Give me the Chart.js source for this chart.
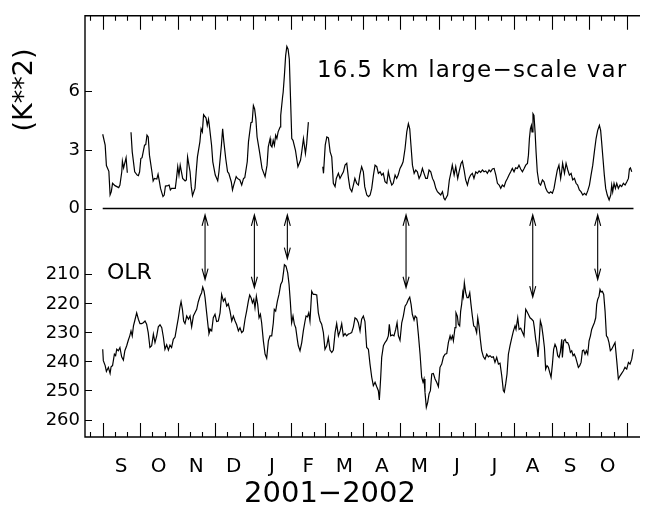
<!DOCTYPE html>
<html><head><meta charset="utf-8">
<script src="https://cdn.jsdelivr.net/npm/chart.js@4/dist/chart.umd.min.js"></script>
<style>html,body{margin:0;padding:0;background:#fff}#wrap{width:650px;height:505px;position:relative}</style>
</head><body><div id="wrap"><canvas id="c" width="650" height="505"></canvas></div>
<script>
// ---- data (days since 1 Sep 2001) ----
const monthLabels = ['S','O','N','D','J','F','M','A','M','J','J','A','S','O'];
const monthStarts = [0,30,61,91,122,153,181,212,242,273,303,334,365,395,426];
const varTicks = [0,3,6];
const olrTicks = [210,220,230,240,250,260];

const varDays = [0,2,3,5,6,7,8,10,13,14,15.5,16,17,19,20,21.5,
23,24,26,28,29,30,31,32,34,35,36,37,38,40,41,42,44,45,46,47,49,50,51,53,54,55,56,59,60,61,62,63,65,67,68,69,71,72,73,75,76,77,79,80,81,82,84,85,86,86.5,88.5,89.5,91.5,93.5,94.5,96.5,97.5,98.5,100,101.5,102.5,104.5,105.5,106.5,108.5,109.5,111.5,113,114.5,115.5,117.5,118.5,120.5,121.5,122.5,123.5,124.5,125.5,127.5,129.5,132,133.6,134.6,136.1,136.6,137.6,138.6,139.6,140.6,141.6,142.6,144.2,144.7,146.2,146.7,147.7,148.7,149.7,150.7,151.7,152.7,153.7,154.7,156.7,157.7,158.7,160.8,161.8,163.2,164.8,165.8,167.2,172,
178.9,179.5,180.9,182.2,183.5,184.9,186.2,187.5,188.9,189.9,191.6,192.9,194.3,195.7,197,198.4,199.8,201,202.5,203.8,205,206.5,207.9,209,210.5,211.9,213,214.7,216.1,217.4,218.7,220.1,221.4,222.8,224.1,225.5,226.8,228.1,229.5,231,232.2,233.7,235,236.2,237.7,239,240.2,241.7,243.1,244.2,245.8,247.2,248.5,249.6,250.6,251.8,253.2,254.5,255.8,257.2,258.5,259.9,261.2,262.6,263.9,265.3,266.7,268.1,269.4,270.8,272.1,273.4,274.8,276.2,277.4,278.3,280.4,281.8,283.2,284.2,285.7,287,288.6,289.7,291.3,292.4,293.8,295.1,296.5,297.8,299.1,300.5,301.8,303.3,304.6,306,307.3,308.7,310,311.4,312.7,314.1,315.4,316.8,318.2,319.6,320.9,322.3,323.6,324.9,326.3,327.6,329,330.3,331.7,333,334.4,335.7,337.1,338.4,339.8,341.2,342.6,343.9,345.3,346.1,346.9,347.7,348.5,349,349.8,350.6,351.5,352.3,353.3,354.7,356,357.5,358.8,360.2,361.5,362.9,364.2,365.6,366.9,368.3,369.6,370.9,372.3,373.1,373.9,375.4,376.7,378.1,379.4,380.8,382.1,383.5,384.8,386.1,387.5,388.8,390.3,391.6,393,394.3,395.7,397,398.4,399.7,401.1,402.4,403.8,404.8,405.6,406.7,407.8,408.9,410.2,411.7,413,413.8,414.6,415.7,416.8,417.9,419.2,420.6,421.9,423.3,424.7,426.1,427.4,428.2,429,430.1];
const varVals = [3.8,3.24,2.2,1.9,0.7,0.86,1.29,1.17,1.07,1.2,1.88,2.42,2.08,2.6,1.83,null,
3.9,2.9,1.88,1.71,1.68,1.88,2.56,2.6,3.24,3.27,3.75,3.66,2.73,1.88,1.41,1.54,1.51,1.75,1.41,1.03,0.61,0.69,1.15,1.17,1.2,0.95,1.03,1.03,1.54,2.14,1.71,2.22,1.54,1.41,1.46,2.64,1.88,1.12,0.66,1.03,1.88,2.64,3.41,4.08,3.92,4.8,4.63,4.25,4.56,4.34,3.24,2.39,1.71,1.42,1.88,3.24,4.08,3.41,2.56,1.88,1.8,1.37,0.95,1.2,1.63,1.54,1.46,1.2,1.54,1.58,2.39,3.41,4.39,4.42,5.27,5.1,4.59,3.66,2.9,2.05,1.63,2.22,3.15,3.58,3.24,3.15,3.49,3.24,3.75,3.58,3.92,4.17,4.76,5.69,5.95,6.8,7.81,8.29,8.15,7.64,5.61,3.58,3.49,2.98,2.56,2.14,2.47,2.9,3.58,2.81,3.32,4.42,null,
2.14,1.8,3.24,3.66,3.61,2.9,2.64,1.29,1.12,1.54,1.8,1.54,1.71,1.88,2.22,2.31,1.54,1.03,0.86,1.2,1.54,1.29,1.2,1.71,2.14,1.88,1.12,0.69,0.61,0.69,1.03,1.71,2.22,2.14,1.8,1.88,1.71,1.8,1.37,1.29,1.88,1.46,1.2,1.29,1.71,1.54,1.71,2.05,2.22,2.39,3.07,3.92,4.34,4.08,3.24,2.22,1.8,1.97,1.88,1.54,1.71,2.05,1.8,1.54,1.54,1.97,1.88,1.54,1.37,1.03,0.86,0.78,0.69,0.86,0.53,0.44,0.69,1.46,1.88,2.22,1.71,2.14,1.54,1.88,2.31,2.42,1.97,1.46,1.2,1.54,1.71,1.8,1.54,1.88,1.8,1.92,1.85,1.97,1.88,1.92,1.8,1.97,1.88,2.02,2.05,1.71,1.29,1.2,1.03,1.2,1.12,1.37,1.54,1.71,1.88,2.05,1.88,2.08,2.05,2.22,2.02,1.88,2.05,2.22,2.31,2.73,3.58,4.08,4.25,3.92,4.85,4.76,3.92,2.9,1.88,1.29,1.2,1.46,1.37,1.03,0.86,0.78,0.86,0.78,1.03,1.54,1.97,2.22,1.54,1.88,2.31,1.8,2.31,1.97,1.71,1.8,1.46,1.54,1.29,1.2,0.95,0.86,0.69,0.78,0.69,0.9,1.2,1.71,2.22,2.9,3.58,4.0,4.25,4.0,3.41,2.56,1.71,1.03,0.69,0.44,0.69,1.2,0.86,1.29,1.03,1.29,1.03,1.2,1.12,1.29,1.2,1.37,1.54,2.02,2.08,1.88];

const zeroLineDays = [0,431.5];
const zeroLineVals = [0,0];

const olrDays = [0,0.5,2,3,4.6,6,6.8,8,9.5,10.5,11.4,12.7,14,15.4,16.8,18,19.5,20.8,22,23,24,25,26,27.6,29,30.3,31.7,33,34.4,35.7,37,38.4,39.8,41.2,42.5,43.9,45.2,46.6,48,49.3,50.6,52,53.4,54.7,56,57.4,58.8,60.1,61.5,62.8,63.7,64.8,65.8,66.9,68.3,69.7,71,72.3,73.7,75,76.4,77.7,79.1,80.4,81.3,82.4,83.2,84.5,85.8,86.4,87.5,88.6,89.9,91.3,92.6,94,95.4,96.7,98.1,99.4,100.8,102.1,103.5,104.9,106.2,107.6,108.9,110.3,111.6,113,114.3,115.7,117,118.4,119.5,120.6,121.7,122.8,123.8,124.9,126,127.1,128.2,129.2,130.6,132,133.3,134.7,136,137.4,138.7,139.5,140.6,142,143.3,144.7,146,147.1,147.7,149,150.4,151.5,152.5,153.6,154.7,155.8,156.9,158.2,159,160.4,161.8,163.1,164.5,165.3,166.4,167.5,168.5,169.9,171.2,172.6,174,175.3,176.7,178,179.4,180.7,182.1,183.4,184.8,186.2,187.5,188.9,190.2,191.6,193,194.3,195.6,197,198.3,199.7,201,202.4,203.8,205.1,206.5,207.8,209.2,210.5,211.9,213.2,214.6,216,217.3,218.7,220,221.4,222.7,224.1,224.9,226,226.8,228.2,229.5,230.9,232.2,233,234.1,235.5,236.8,238.2,239.3,240.4,241.7,243.1,244.4,245.8,247.1,248.5,249.6,250.7,251.7,253.1,254,255.3,256.6,258,259.3,260.4,261.2,262,263.1,264.2,265.3,266.4,267.5,268.8,270.2,271.5,272.9,274.2,275.6,277,278.3,279.7,281,282.4,283.2,284.3,285.1,286.4,287.2,288.3,289.1,290.2,291,291.8,292.7,293.2,294,295.1,296.2,297.3,298.4,299.4,300.5,301.6,302.7,304,304.9,305.9,307,308.1,309.5,310.8,312.2,313.5,314.9,316.2,317.6,318.9,320.3,321.7,323,324.4,325.7,326.5,327.6,328.7,329.8,331.1,332.5,333.9,335.2,336,337.4,338.5,339.8,341.4,342.5,343.9,344.7,346,347.4,348.8,350.1,350.9,352,353.1,353.9,355,355.8,356.9,358,359.1,360.1,361.2,362.3,363.4,364.5,365.6,366.6,367.7,368.8,369.9,371,372,373.2,373.7,374.8,375.9,376.9,378,379.1,380.2,381.3,382.4,383.4,384.5,385.6,386.7,387.8,388.9,390,391,392.1,393.2,394.3,395.4,396.5,397.5,398.6,399.7,400.8,401.6,402.4,403.5,404.3,405.1,406.2,407.3,408.4,409.5,410.5,411.6,412.7,413.8,415.2,416.5,417.9,419.2,420.6,421.9,423.3,424.6,426,427.4,428.7,430.1,431.4];
const olrVals = [235.9,239.8,241.5,243.5,242.1,244.2,241.9,241.5,237.6,238.1,235.9,236.4,235.3,238.5,239.6,236.4,234.7,232.8,231.3,229.6,231.3,227.9,226.2,223.4,225.6,227.1,227.1,226.8,226.2,227.3,230.2,235.3,234.7,230.7,233.6,231.3,228.2,227.5,228.5,231.7,235.9,234.4,236.2,234.5,235.3,232.5,231.7,228.5,225.1,221.4,219.6,222.2,226.2,227.1,224.5,225.6,224.5,228.2,224.5,223.4,222.2,219.6,217.7,216.5,214.6,216,218.2,223.4,228.5,230.5,229.1,229.6,225.1,223.9,226.4,226.2,223.4,217.1,219.4,218.5,221.1,220.3,222.8,226.2,224.5,226.2,227.5,229.6,228.5,230.2,229.6,225.6,222.8,219.4,217.3,218.2,220,218.8,221.7,217.7,220.5,225.1,223.9,226.8,233,237.6,239,233,231.3,231.3,226.8,222.2,222.8,219.4,217.1,213.7,212.6,209.1,206.9,207.4,209.7,213.7,219.4,226.8,224.5,227.3,228.5,232.5,234.7,236.4,233.6,229.6,226.2,224.5,224.8,223.4,226.2,216,217.1,217.1,217.3,223.4,226.2,227.3,230.2,235.9,234.7,231.9,236.2,237,236.2,230.2,227.1,231.3,229.6,227.1,231.3,230.5,231.3,230.7,230.5,230.2,228.2,225.1,225.6,226.8,229.6,225.6,224.5,226.4,235.3,235.9,241,245.5,248.4,247.2,248.7,250.1,253.3,245.5,238.7,234.7,233.6,232.8,231.3,227.3,231.3,231,231.3,229.1,226.8,231.3,232.8,226.8,224.5,221.1,220.3,218.8,218,220.5,223.9,225.9,224.5,225.1,230.7,237.6,245.5,247.2,246.1,250.6,255.8,254.1,251.2,250.1,244.4,244.2,246.1,247.2,248.7,242.1,241,238.5,237.6,237.4,233.6,231.3,232.5,231.3,233,228.5,223.4,224.5,227.3,227.9,222.8,220.5,216.5,217.7,213.1,216.5,218.2,218.2,216.5,220.5,224.5,227.9,228.2,230.2,225.1,227.9,232.5,236.4,238.5,239.3,237.6,238.5,238.1,238.7,238.5,240.4,238.7,241,240.7,245,250.1,250.6,247.8,244.4,237.6,234.7,232.1,229.6,227.9,229.1,225.1,229.1,228.7,230.2,231.3,222.2,222.8,223.9,225.1,225.6,226.2,228.5,232.5,235.3,238.5,231.9,226.2,227.9,231.3,235.3,242.7,241.5,242.1,243.8,245.5,241,235.9,234.2,235.3,238.1,238.7,237,232.5,238.7,233,232.5,233.6,233.6,234.7,237,236.4,238.1,237.6,238.7,240.4,242.1,241.5,240.4,236.4,236.2,237.6,236.4,237.6,233,231.3,229.1,227.9,226.8,225.1,220.5,218.8,217.7,215.4,216.2,216,217.1,222.8,231.3,231.9,233.6,236.4,235.9,234.7,233.6,239.9,246.1,245,244.2,243.3,242.1,242.7,240.4,241,239.3,235.9];

const arrowDays = [83.2,123.3,150.1,246.6,349.6,402.4];
const arrowTopVar = -0.32;
const arrowBottomOlr = [212.0,214.8,204.8,214.8,218.0,212.0];

// ---- chart ----
const FONT = '"DejaVu Sans", "Liberation Sans", sans-serif';
const toPts = (xs, ys) => xs.map((d, i) => ({x: d, y: ys[i]}));

const deco = {
  id: 'deco',
  afterDraw(chart) {
    const {ctx, chartArea: a, scales} = chart;
    const x = scales.x, y = scales.y, y2 = scales.y2;
    ctx.save();
    ctx.strokeStyle = '#000'; ctx.fillStyle = '#000';
    // frame
    ctx.lineWidth = 1.4;
    ctx.beginPath();
    ctx.moveTo(a.right, a.top); ctx.lineTo(a.left, a.top); ctx.lineTo(a.left, a.bottom); ctx.lineTo(a.right, a.bottom);
    ctx.stroke();
    // x ticks (top and bottom, inward)
    ctx.lineWidth = 1.1;
    ctx.beginPath();
    const tick = (v, len) => {
      if (v < x.min || v > x.max) return;
      const px = Math.round(x.getPixelForValue(v)) + 0.5;
      ctx.moveTo(px, a.top); ctx.lineTo(px, a.top + len);
      ctx.moveTo(px, a.bottom); ctx.lineTo(px, a.bottom - len);
    };
    for (let i = 0; i < monthStarts.length; i++) {
      tick(monthStarts[i], 14);
      if (i < monthStarts.length - 1) {
        const s = monthStarts[i], e = monthStarts[i + 1];
        tick(s + (e - s) / 3, 5); tick(s + 2 * (e - s) / 3, 5);
      }
    }
    tick(monthStarts[0] - 10, 5); tick(monthStarts[0] - 20, 5);
    // y ticks
    varTicks.forEach(v => { const py = Math.round(y.getPixelForValue(v)) + 0.5; ctx.moveTo(a.left, py); ctx.lineTo(a.left + 7, py); });
    olrTicks.forEach(v => { const py = Math.round(y2.getPixelForValue(v)) + 0.5; ctx.moveTo(a.left, py); ctx.lineTo(a.left + 7, py); });
    ctx.stroke();
    // OLR tick labels
    ctx.font = '18px ' + FONT; ctx.textAlign = 'right'; ctx.textBaseline = 'middle';
    olrTicks.forEach(v => ctx.fillText(String(v), a.left - 5, y2.getPixelForValue(v) + 1));
    // arrows
    ctx.lineWidth = 1.1;
    arrowDays.forEach((d, i) => {
      const px = x.getPixelForValue(d);
      const t = y.getPixelForValue(arrowTopVar);
      const b = y2.getPixelForValue(arrowBottomOlr[i]);
      ctx.beginPath();
      ctx.moveTo(px, t); ctx.lineTo(px, b);
      ctx.moveTo(px - 3, t + 11); ctx.lineTo(px, t); ctx.lineTo(px + 3, t + 11);
      ctx.moveTo(px - 3, b - 11); ctx.lineTo(px, b); ctx.lineTo(px + 3, b - 11);
      ctx.stroke();
    });
    // texts
    ctx.textBaseline = 'middle';
    ctx.textAlign = 'left';
    ctx.font = '23px ' + FONT;
    if ('letterSpacing' in ctx) ctx.letterSpacing = '1.2px';
    ctx.fillText('16.5 km large\u2212scale var', 317, 71);
    if ('letterSpacing' in ctx) ctx.letterSpacing = '0px';
    ctx.font = '22px ' + FONT;
    ctx.fillText('OLR', 107, 273);
    ctx.textAlign = 'center';
    ctx.font = '29px ' + FONT;
    ctx.fillText('2001\u22122002', 330, 494);
    ctx.save();
    ctx.translate(25, 90); ctx.rotate(-Math.PI / 2);
    ctx.font = '27px ' + FONT;
    ctx.fillText('(K**2)', 0, 0);
    ctx.restore();
    ctx.restore();
  }
};

new Chart(document.getElementById('c'), {
  type: 'line',
  data: {
    datasets: [
      {data: toPts(varDays, varVals), yAxisID: 'y', borderColor: '#000', borderWidth: 1.2, pointRadius: 0, spanGaps: false, tension: 0},
      {data: toPts(zeroLineDays, zeroLineVals), yAxisID: 'y', borderColor: '#000', borderWidth: 1.3, pointRadius: 0},
      {data: toPts(olrDays, olrVals), yAxisID: 'y2', borderColor: '#000', borderWidth: 1.2, pointRadius: 0, tension: 0}
    ]
  },
  options: {
    responsive: false, animation: false, devicePixelRatio: 1,
    layout: {padding: {top: 13, right: 10, left: 0, bottom: 0}},
    plugins: {legend: {display: false}, tooltip: {enabled: false}},
    scales: {
      x: {
        type: 'linear', min: -14.4, max: 436.8,
        grid: {display: false, drawTicks: false}, border: {display: false},
        afterBuildTicks: s => { s.ticks = monthLabels.map((l, i) => ({value: (monthStarts[i] + monthStarts[i + 1]) / 2})); },
        afterFit: s => { s.height = 68; },
        ticks: {autoSkip: false, maxRotation: 0, padding: 18, color: '#000', font: {family: FONT, size: 20},
          callback: (v, i) => monthLabels[i]}
      },
      y: {
        type: 'linear', min: -11.69, max: 9.86,
        grid: {display: false, drawTicks: false}, border: {display: false},
        afterBuildTicks: s => { s.ticks = varTicks.map(v => ({value: v})); },
        afterFit: s => { s.width = 85; },
        ticks: {padding: 5, color: '#000', font: {family: FONT, size: 18}, callback: v => String(v)}
      },
      y2: {
        type: 'linear', display: false, reverse: true, min: 121.5, max: 266.0
      }
    }
  },
  plugins: [deco]
});
</script>
</body></html>
